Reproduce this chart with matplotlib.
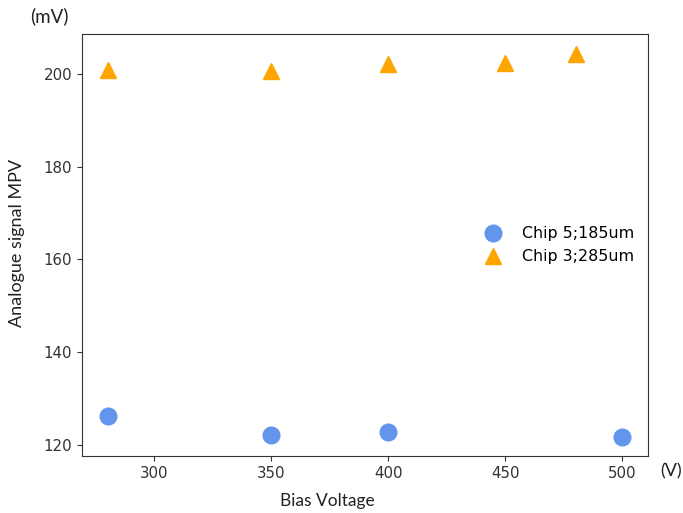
import matplotlib
matplotlib.use('Agg')
import matplotlib.pyplot as plt

plt.rcParams['font.family'] = ['DejaVu Sans']

# Bias scan: analogue signal MPV for two chip thicknesses
bias_185 = [280, 350, 400, 500]
mpv_185 = [126.3, 122.0, 122.8, 121.7]

bias_285 = [280, 350, 400, 450, 480]
mpv_285 = [200.8, 200.7, 202.1, 202.4, 204.4]

label_185 = 'Chip 5;185um'
label_285 = 'Chip 3;285um'

fig = plt.figure(figsize=(6.83, 5.13), dpi=100)
ax = fig.add_axes([0.120, 0.111, 0.829, 0.822])

ax.plot(bias_185, mpv_185, 'o', color='cornflowerblue', markersize=12,
        label=label_185)
ax.plot(bias_285, mpv_285, '^', color='orange', markersize=12,
        label=label_285)

ax.set_xticks([300, 350, 400, 450, 500])
ax.set_yticks([120, 140, 160, 180, 200])
ax.tick_params(labelsize=10.8, colors='#333333')
for s in ax.spines.values():
    s.set_color('#333333')

ax.legend(loc='center right', frameon=False, fontsize=11.4)

# axis labels and units placed as free text
lab_font = dict(family=['Lato', 'DejaVu Sans'], color='#222222')
fig.text(0.479, 0.023, 'Bias Voltage', ha='center', va='center',
         fontsize=12.5, **lab_font)
fig.text(0.025, 0.527, 'Analogue signal MPV', ha='center', va='center',
         rotation=90, fontsize=13, **lab_font)
fig.text(0.072, 0.969, '(mV)', ha='center', va='center', fontsize=13.5,
         **lab_font)
fig.text(0.983, 0.082, '(V)', ha='center', va='center', fontsize=13,
         **lab_font)

fig.savefig('out.png', dpi=100)
